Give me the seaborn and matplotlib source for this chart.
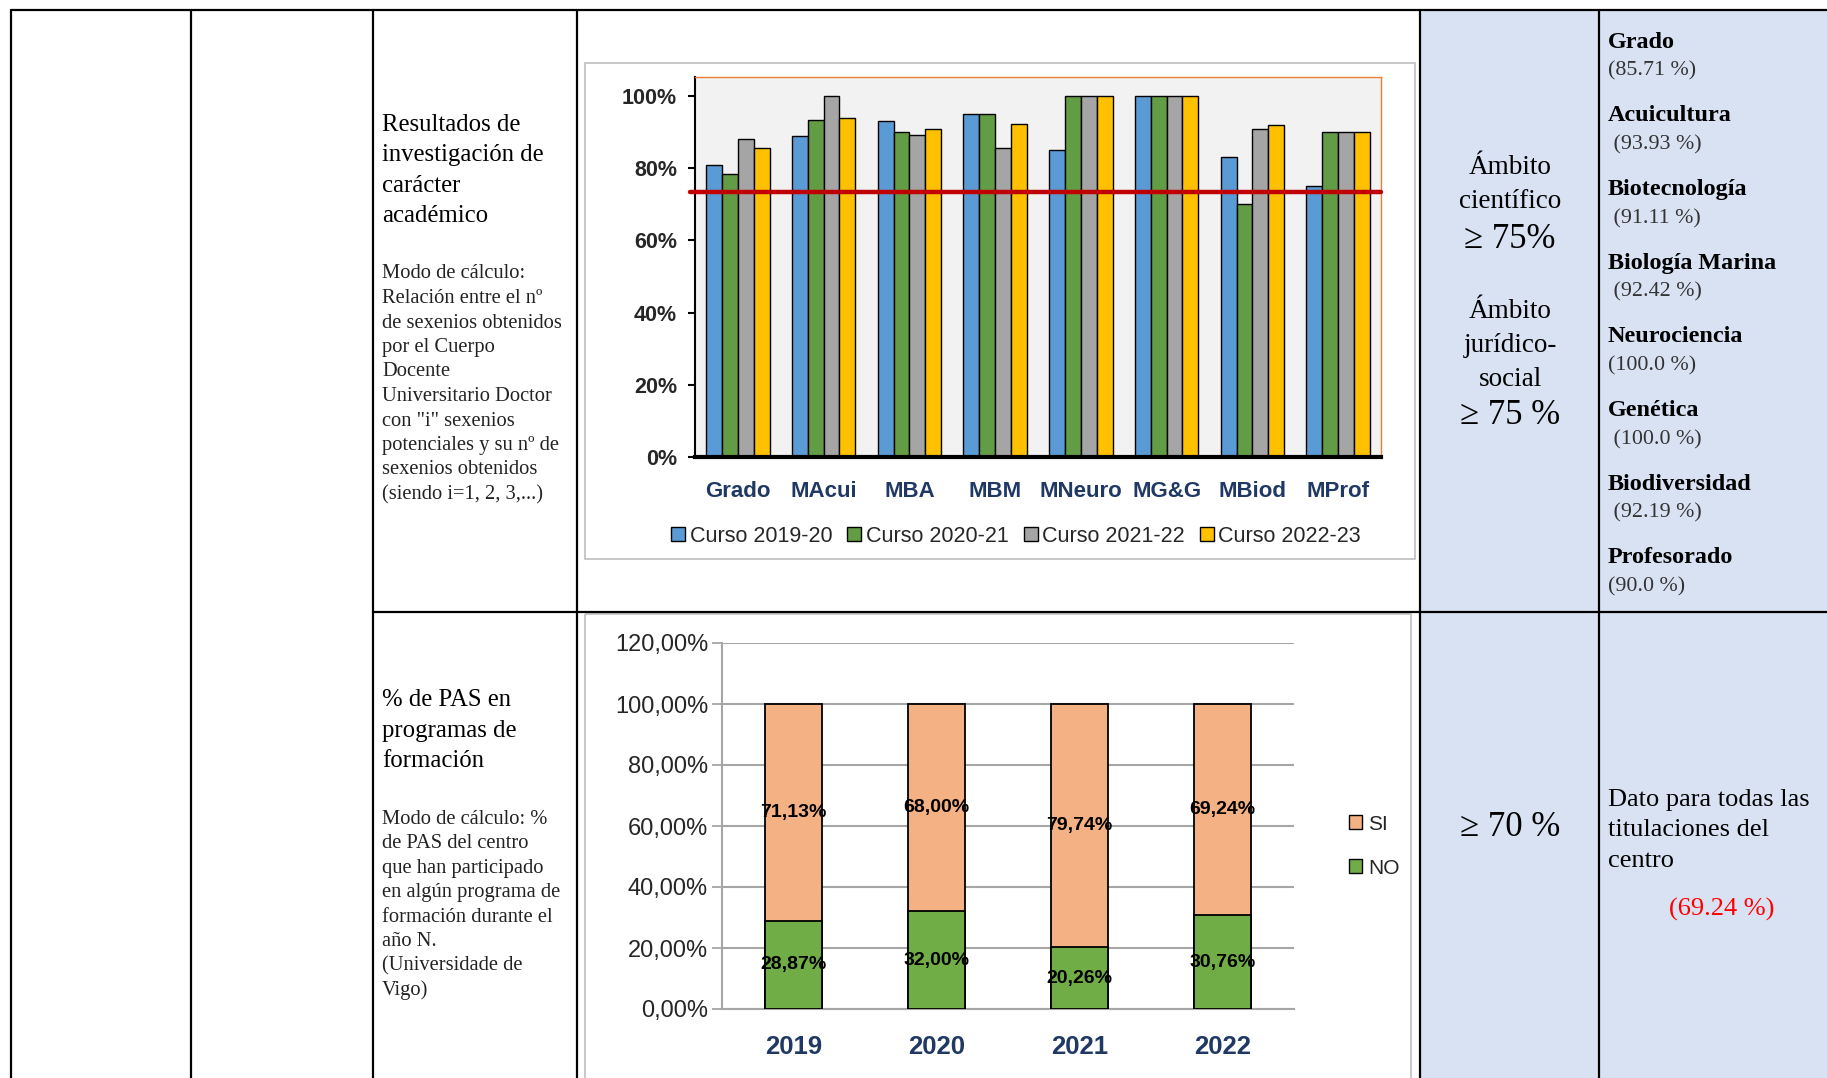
import matplotlib
matplotlib.use("Agg")
import matplotlib.pyplot as plt
import seaborn as sns
import pandas as pd
from matplotlib.patches import Rectangle, Patch

# --- Datos: resultados de investigación (sexenios) ---
titulos = ["Grado", "MAcui", "MBA", "MBM", "MNeuro", "MG&G", "MBiod", "MProf"]
cursos = ["Curso 2019-20", "Curso 2020-21", "Curso 2021-22", "Curso 2022-23"]
curso_2019 = [0.810, 0.889, 0.930, 0.950, 0.851, 1.000, 0.830, 0.752]
curso_2020 = [0.785, 0.933, 0.900, 0.950, 1.000, 1.000, 0.700, 0.900]
curso_2021 = [0.881, 1.000, 0.892, 0.855, 1.000, 1.000, 0.910, 0.900]
curso_2022 = [0.857, 0.939, 0.910, 0.924, 1.000, 1.000, 0.921, 0.900]
umbral = 0.735
colores_cursos = ["#5b9bd5", "#629c44", "#a5a5a5", "#ffc000"]

# --- Datos: PAS en programas de formación ---
anios = ["2019", "2020", "2021", "2022"]
pas_si = [0.7113, 0.6800, 0.7974, 0.6924]
pas_no = [0.2887, 0.3200, 0.2026, 0.3076]

# --- Textos de la tabla ---
titulo_inv = ["Resultados de", "investigación de", "carácter", "académico"]
modo_inv = ["Modo de cálculo:", "Relación entre el nº", "de sexenios obtenidos",
            "por el Cuerpo", "Docente", "Universitario Doctor", 'con "i" sexenios',
            "potenciales y su nº de", "sexenios obtenidos", "(siendo i=1, 2, 3,...)"]
titulo_pas = ["% de PAS en", "programas de", "formación"]
modo_pas = ["Modo de cálculo: %", "de PAS del centro", "que han participado",
            "en algún programa de", "formación durante el", "año N.",
            "(Universidade de", "Vigo)"]
meta_inv = ["Ámbito", "científico", "≥ 75%", "Ámbito", "jurídico-", "social", "≥ 75 %"]
titulaciones = ["Grado", "Acuicultura", "Biotecnología", "Biología Marina",
                "Neurociencia", "Genética", "Biodiversidad", "Profesorado"]
resultados = ["(85.71 %)", " (93.93 %)", " (91.11 %)", " (92.42 %)",
              "(100.0 %)", " (100.0 %)", " (92.19 %)", "(90.0 %)"]
nota_pas = ["Dato para todas las", "titulaciones del", "centro"]
resultado_pas = "(69.24 %)"

sns.set_style("white")
plt.rcParams["font.family"] = ["Liberation Sans", "DejaVu Sans"]

W, H = 1827, 1078
fig = plt.figure(figsize=(W / 100, H / 100), dpi=100)

# capa de fondo en píxeles para la tabla
bg = fig.add_axes([0, 0, 1, 1])
bg.set_xlim(0, W)
bg.set_ylim(H, 0)
bg.axis("off")

bg.add_patch(Rectangle((1420, 10), W - 1420, H - 10, color="#d9e2f3", zorder=0))
# recuadros de los gráficos
bg.add_patch(Rectangle((585, 63), 830, 496, fill=False, ec="#bfbfbf", lw=1.2))
bg.add_patch(Rectangle((585, 614), 826, 500, fill=False, ec="#bfbfbf", lw=1.2))

lw_tab = 1.6
bg.plot([11, W], [10, 10], color="black", lw=lw_tab)
for x in [11, 191, 373, 577, 1420, 1599]:
    bg.plot([x, x], [10, H], color="black", lw=lw_tab)
bg.plot([373, W], [612, 612], color="black", lw=lw_tab)

serif = "Liberation Serif"

for i, linea in enumerate(titulo_inv):
    bg.text(382, 125 + i * 30.5, linea, family=serif, fontsize=17.8, va="center", color="black")
for i, linea in enumerate(modo_inv):
    bg.text(382, 274 + i * 24.5, linea, family=serif, fontsize=14.8, va="center", color="#222222")
for i, linea in enumerate(titulo_pas):
    bg.text(382, 700 + i * 30.5, linea, family=serif, fontsize=17.8, va="center", color="black")
for i, linea in enumerate(modo_pas):
    bg.text(382, 819 + i * 24.5, linea, family=serif, fontsize=14.8, va="center", color="#222222")

meta_y = [168, 201, 240, 312, 346, 379, 416]
for txt, y in zip(meta_inv, meta_y):
    grande = txt.startswith("≥")
    bg.text(1510, y, txt, family=serif, fontsize=25 if grande else 19.5,
            ha="center", va="center", color="black")

for i, (nom, res) in enumerate(zip(titulaciones, resultados)):
    bg.text(1608, 42 + i * 73.7, nom, family=serif, fontsize=17.4, fontweight="bold",
            va="center", color="black")
    bg.text(1608, 71 + i * 73.7, res, family=serif, fontsize=15.8, va="center", color="#333333")

bg.text(1510, 827, "≥ 70 %", family=serif, fontsize=25, ha="center", va="center", color="black")
for i, linea in enumerate(nota_pas):
    bg.text(1608, 800 + i * 30.5, linea, family=serif, fontsize=19, va="center", color="black")
bg.text(1722, 909, resultado_pas, family=serif, fontsize=19, ha="center", va="center", color="#ff0000")


def fig_rect(left, top, right, bottom):
    return [left / W, 1 - bottom / H, (right - left) / W, (bottom - top) / H]


# --- Gráfico 1: barras agrupadas ---
df_inv = pd.DataFrame({
    "titulo": titulos * len(cursos),
    "curso": [c for c in cursos for _ in titulos],
    "valor": curso_2019 + curso_2020 + curso_2021 + curso_2022,
})
ax1 = fig.add_axes(fig_rect(695, 77, 1381, 457))
sns.barplot(data=df_inv, x="titulo", y="valor", hue="curso",
            palette=dict(zip(cursos, colores_cursos)), saturation=1,
            width=0.74, gap=0, edgecolor="black", linewidth=1.0,
            errorbar=None, legend=False, ax=ax1)
ax1.set_facecolor("#f2f2f2")
ax1.set_xlim(-0.5, len(titulos) - 0.5)
ax1.set_ylim(0, 1.053)
ax1.axhline(umbral, xmin=-0.008, xmax=1.0, color="#c00000", lw=3.2, zorder=5, clip_on=False)
yt = [0, 0.2, 0.4, 0.6, 0.8, 1.0]
ax1.set_yticks(yt, labels=[f"{v:.0%}" for v in yt], fontsize=15.5, fontweight="bold")
ax1.set_xticks(range(len(titulos)), labels=titulos, fontsize=16, fontweight="bold", color="#1f3864")
ax1.set_xticks([i - 0.5 for i in range(len(titulos) + 1)], minor=True)
ax1.tick_params(axis="x", which="major", length=0, pad=17)
ax1.tick_params(axis="x", which="minor", length=6, width=2, color="black", direction="out")
ax1.tick_params(axis="y", length=5, width=1.5, color="black", pad=8, left=True)
ax1.set_xlabel("")
ax1.set_ylabel("")
for s in ["top", "right"]:
    ax1.spines[s].set_color("#ed7d31")
    ax1.spines[s].set_linewidth(1.0)
ax1.spines["left"].set_color("black")
ax1.spines["left"].set_linewidth(1.5)
ax1.spines["bottom"].set_color("black")
ax1.spines["bottom"].set_linewidth(3)

handles1 = [Patch(facecolor=c, edgecolor="black", lw=1) for c in colores_cursos]
fig.legend(handles1, cursos, loc="center", bbox_to_anchor=(1016 / W, 1 - 536 / H),
           ncol=4, frameon=False, fontsize=15.5, handlelength=0.65, handleheight=0.65,
           handletextpad=0.2, columnspacing=0.7)

# --- Gráfico 2: barras apiladas SI / NO ---
df_pas = pd.DataFrame({"anio": anios, "si": pas_si, "no": pas_no})
df_pas["total"] = df_pas["si"] + df_pas["no"]
ax2 = fig.add_axes(fig_rect(722, 643, 1294, 1009))
sns.barplot(data=df_pas, x="anio", y="total", color="#f4b183", saturation=1,
            width=0.4, edgecolor="black", linewidth=1.3, errorbar=None, ax=ax2, zorder=3)
sns.barplot(data=df_pas, x="anio", y="no", color="#70ad47", saturation=1,
            width=0.4, edgecolor="black", linewidth=1.3, errorbar=None, ax=ax2, zorder=3)
for i, (si, no) in enumerate(zip(df_pas["si"], df_pas["no"])):
    ax2.text(i, no / 2, f"{no * 100:.2f}%".replace(".", ","), ha="center", va="center",
             fontsize=14, fontweight="bold", color="black", zorder=6)
    ax2.text(i, no + si / 2, f"{si * 100:.2f}%".replace(".", ","), ha="center", va="center",
             fontsize=14, fontweight="bold", color="black", zorder=6)
ax2.set_xlim(-0.5, len(anios) - 0.5)
ax2.set_ylim(0, 1.2)
yt2 = [0, 0.2, 0.4, 0.6, 0.8, 1.0, 1.2]
ax2.set_yticks(yt2, labels=[f"{v * 100:.2f}%".replace(".", ",") for v in yt2],
               fontsize=17, color="#262626")
ax2.set_xticks(range(len(anios)), labels=anios, fontsize=18.5, fontweight="bold", color="#1f3864")
ax2.set_xticks([i - 0.5 for i in range(len(anios) + 1)], minor=True)
ax2.tick_params(axis="x", which="major", length=0, pad=19)
ax2.tick_params(axis="x", which="minor", length=7, width=1.3, color="#a6a6a6", direction="out")
ax2.tick_params(axis="y", length=7, width=1.3, color="#a6a6a6", pad=3, left=True)
ax2.yaxis.grid(True, color="#a6a6a6", lw=1.5)
ax2.set_axisbelow(True)
ax2.set_xlabel("")
ax2.set_ylabel("")
for s in ["top", "right"]:
    ax2.spines[s].set_visible(False)
for s in ["left", "bottom"]:
    ax2.spines[s].set_color("#a6a6a6")
    ax2.spines[s].set_linewidth(1.5)

handles2 = [Patch(facecolor="#f4b183", edgecolor="black", lw=1),
            Patch(facecolor="#70ad47", edgecolor="black", lw=1)]
fig.legend(handles2, ["SI", "NO"], loc="center left", bbox_to_anchor=(1330 / W, 1 - 846 / H),
           frameon=False, fontsize=15, handlelength=0.65, handleheight=0.65,
           handletextpad=0.3, labelspacing=1.2)

fig.savefig("out.png", dpi=100)
